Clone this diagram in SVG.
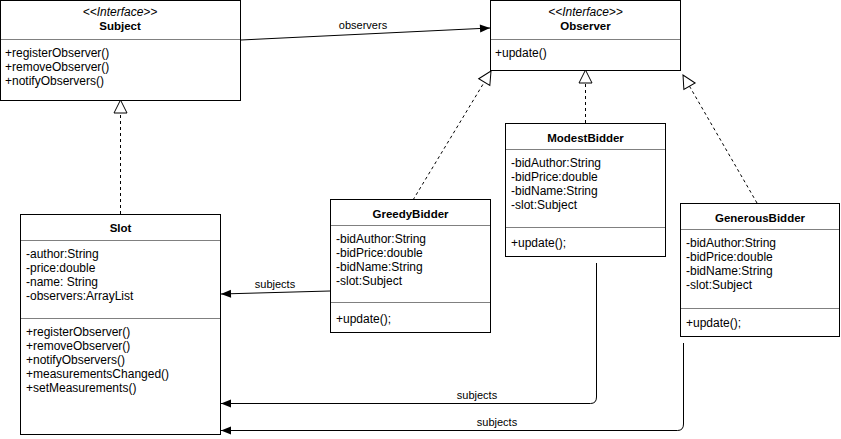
<svg xmlns="http://www.w3.org/2000/svg" width="841" height="439" viewBox="0 0 841 439">
  <style>
    .box { fill: #ffffff; stroke: #000000; stroke-width: 1; }
    .sep { stroke: #808080; stroke-width: 1; }
    .t { font-family: "Liberation Sans", Arial, sans-serif; font-size: 12px; fill: #000000; }
    .title { font-weight: bold; font-size: 11.5px; text-anchor: middle; }
    .stereo { font-style: italic; text-anchor: middle; }
    .lbl { font-size: 11px; text-anchor: middle; }
    .dash { fill: none; stroke: #000000; stroke-width: 1; stroke-dasharray: 3 3; marker-end: url(#realize); }
    .assoc { fill: none; stroke: #000000; stroke-width: 1; marker-end: url(#nav); }
  </style>
  <defs>
    <marker id="realize" markerUnits="userSpaceOnUse" markerWidth="16" markerHeight="16" viewBox="0 0 16 16" refX="14" refY="8" orient="auto">
      <path d="M1,1.5 L14,8 L1,14.5 Z" fill="#ffffff" stroke="#000000" stroke-width="1" stroke-dasharray="none"/>
    </marker>
    <marker id="nav" markerUnits="userSpaceOnUse" markerWidth="12" markerHeight="10" viewBox="0 0 12 10" refX="11" refY="5" orient="auto">
      <path d="M1,1 L11,5 L1,9 Z" fill="#000000" stroke="none"/>
    </marker>
  </defs>

  <!-- connectors -->
  <g id="connectors">
    <path class="dash" d="M120.5,214 L120.5,100"/>
    <path class="dash" d="M413,200 L491,71"/>
    <path class="dash" d="M585.5,123 L585.5,70"/>
    <path class="dash" d="M757,203 L683,75"/>
    <path class="assoc" d="M241,40 L490,28"/>
    <text class="t lbl" x="363" y="29">observers</text>
    <path class="assoc" d="M330,291 L221,294"/>
    <text class="t lbl" x="275" y="288">subjects</text>
    <path class="assoc" d="M596.5,263 L596.5,397 Q596.5,403.5 590.5,403.5 L221,403.5"/>
    <text class="t lbl" x="477" y="399">subjects</text>
    <path class="assoc" d="M683.5,343 L683.5,424 Q683.5,430.5 677.5,430.5 L221,430.5"/>
    <text class="t lbl" x="497" y="426">subjects</text>
  </g>

  <!-- Subject interface -->
  <g id="Subject">
    <rect class="box" x="0.5" y="0.5" width="240" height="100"/>
    <line class="sep" x1="1" y1="39.5" x2="240" y2="39.5"/>
    <text class="t stereo" x="120" y="16">&lt;&lt;Interface&gt;&gt;</text>
    <text class="t title" x="120" y="30">Subject</text>
    <text class="t" x="5" y="57">+registerObserver()</text>
    <text class="t" x="5" y="71">+removeObserver()</text>
    <text class="t" x="5" y="85">+notifyObservers()</text>
  </g>

  <!-- Observer interface -->
  <g id="Observer">
    <rect class="box" x="490.5" y="0.5" width="190" height="70"/>
    <line class="sep" x1="491" y1="39.5" x2="680" y2="39.5"/>
    <text class="t stereo" x="585.5" y="16">&lt;&lt;Interface&gt;&gt;</text>
    <text class="t title" x="585.5" y="30">Observer</text>
    <text class="t" x="495" y="57">+update()</text>
  </g>

  <!-- Slot -->
  <g id="Slot">
    <rect class="box" x="20.5" y="214.5" width="200" height="220"/>
    <line class="sep" x1="21" y1="240.5" x2="220" y2="240.5"/>
    <line class="sep" x1="21" y1="318.5" x2="220" y2="318.5"/>
    <text class="t title" x="120.5" y="232">Slot</text>
    <text class="t" x="26" y="258">-author:String</text>
    <text class="t" x="26" y="272">-price:double</text>
    <text class="t" x="26" y="286">-name: String</text>
    <text class="t" x="26" y="300">-observers:ArrayList</text>
    <text class="t" x="26" y="336">+registerObserver()</text>
    <text class="t" x="26" y="350">+removeObserver()</text>
    <text class="t" x="26" y="364">+notifyObservers()</text>
    <text class="t" x="26" y="378">+measurementsChanged()</text>
    <text class="t" x="26" y="392">+setMeasurements()</text>
  </g>

  <!-- GreedyBidder -->
  <g id="GreedyBidder">
    <rect class="box" x="330.5" y="199.5" width="160" height="133"/>
    <line class="sep" x1="331" y1="225.5" x2="490" y2="225.5"/>
    <line class="sep" x1="331" y1="302.5" x2="490" y2="302.5"/>
    <text class="t title" x="410.5" y="218">GreedyBidder</text>
    <text class="t" x="336" y="243">-bidAuthor:String</text>
    <text class="t" x="336" y="257">-bidPrice:double</text>
    <text class="t" x="336" y="271">-bidName:String</text>
    <text class="t" x="336" y="285">-slot:Subject</text>
    <text class="t" x="336" y="323">+update();</text>
  </g>

  <!-- ModestBidder -->
  <g id="ModestBidder">
    <rect class="box" x="505.5" y="123.5" width="160" height="133"/>
    <line class="sep" x1="506" y1="149.5" x2="665" y2="149.5"/>
    <line class="sep" x1="506" y1="227.5" x2="665" y2="227.5"/>
    <text class="t title" x="585.5" y="142">ModestBidder</text>
    <text class="t" x="511" y="167">-bidAuthor:String</text>
    <text class="t" x="511" y="181">-bidPrice:double</text>
    <text class="t" x="511" y="195">-bidName:String</text>
    <text class="t" x="511" y="209">-slot:Subject</text>
    <text class="t" x="511" y="247">+update();</text>
  </g>

  <!-- GenerousBidder -->
  <g id="GenerousBidder">
    <rect class="box" x="680.5" y="203.5" width="159" height="133"/>
    <line class="sep" x1="681" y1="229.5" x2="839" y2="229.5"/>
    <line class="sep" x1="681" y1="308.5" x2="839" y2="308.5"/>
    <text class="t title" x="760" y="222">GenerousBidder</text>
    <text class="t" x="686" y="247">-bidAuthor:String</text>
    <text class="t" x="686" y="261">-bidPrice:double</text>
    <text class="t" x="686" y="275">-bidName:String</text>
    <text class="t" x="686" y="289">-slot:Subject</text>
    <text class="t" x="686" y="327">+update();</text>
  </g>
</svg>
